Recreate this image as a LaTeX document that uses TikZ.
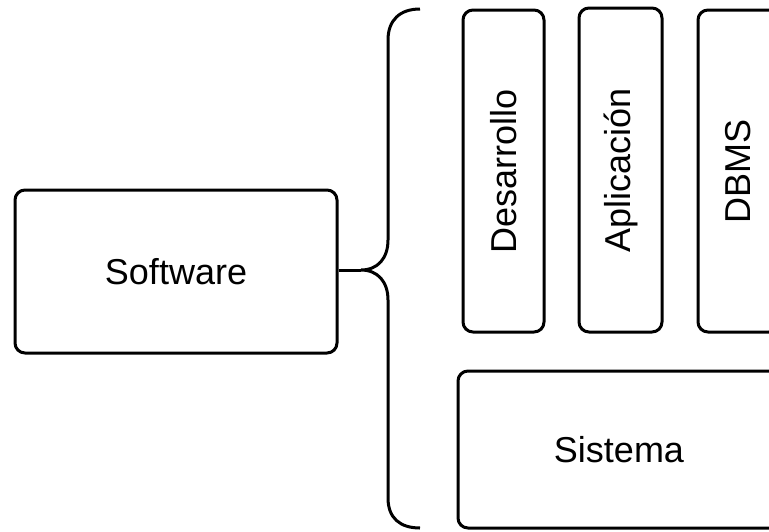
\documentclass[tikz,border=0pt]{standalone}
\usepackage{fontspec}
\setmainfont{Liberation Sans}
\begin{document}
\begin{tikzpicture}[x=1pt,y=-1pt,
  box/.style={draw=black, line width=3pt, rounded corners=10pt, rectangle, inner sep=0pt, font=\fontsize{36}{42}\selectfont},
  vbox/.style={box, minimum width=81pt, minimum height=322pt}]
\useasboundingbox (0,0) rectangle (769,531);
\clip (0,0) rectangle (769,531);
\fill[white] (0,0) rectangle (769,531);
\node[box, minimum width=322pt, minimum height=163pt] (sw) at (176,271.5) {Software};
\node[vbox] (des) at (503.5,171) {\rotatebox{90}{Desarrollo}};
\node[vbox, minimum width=83pt, minimum height=324pt] (apl) at (620.5,170) {\rotatebox{90}{Aplicación}};
\node[vbox] (dbms) at (738.5,171) {\rotatebox{90}{DBMS}};
\node[box, minimum width=322pt, minimum height=157pt] (sis) at (619,449.5) {Sistema};
\coordinate (tip) at (361,270);
\draw[line width=3pt] (sw.east |- tip) -- (tip);
\draw[line width=3pt] (420,9) .. controls (400,9) and (388,20) .. (388,40) -- (388,240)
  .. controls (388,258) and (378,270) .. (tip)
  .. controls (378,270) and (388,282) .. (388,300) -- (388,498)
  .. controls (388,518) and (400,528) .. (420,528);
\end{tikzpicture}
\end{document}
